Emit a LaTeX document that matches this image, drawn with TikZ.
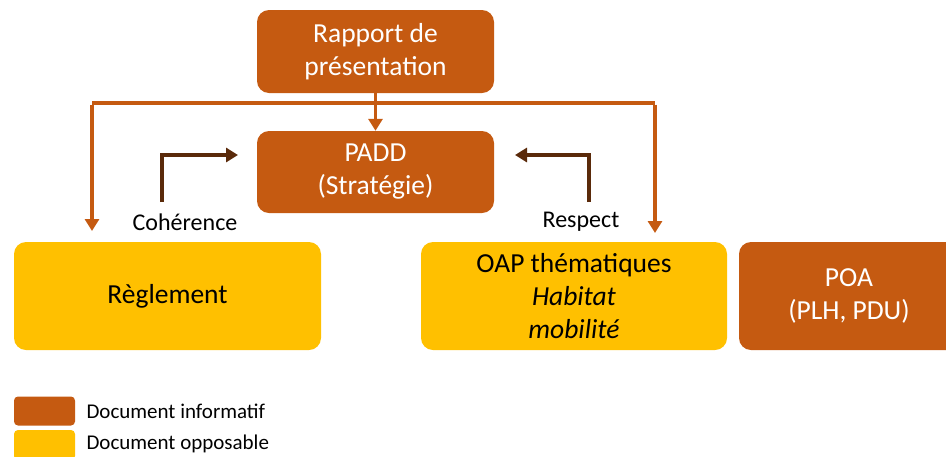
\documentclass[tikz,border=0pt]{standalone}
\usepackage{fontspec}
\setmainfont{Carlito}
\usetikzlibrary{arrows.meta}
\definecolor{infobrown}{HTML}{C55A11}
\definecolor{opposyellow}{HTML}{FFC000}
\definecolor{darkbrown}{HTML}{5A2A0A}
\begin{document}
\begin{tikzpicture}[x=1pt,y=-1pt,
  docbox/.style={rounded corners=12pt, inner sep=0pt, align=center, font=\fontsize{27.5}{33}\selectfont},
  infobox/.style={docbox, fill=infobrown, text=white},
  oppbox/.style={docbox, fill=opposyellow, text=black},
  link/.style={draw=infobrown, line width=3.2pt, -{Triangle[width=14pt,length=12pt]}},
  relation/.style={draw=darkbrown, line width=3.6pt, -{Triangle[width=14pt,length=12pt]}},
  lbl/.style={font=\fontsize{24}{28}\selectfont},
  legendtxt/.style={font=\fontsize{21}{25}\selectfont, anchor=west}
]
\useasboundingbox (0,0) rectangle (946,456);

% Document boxes
\node[infobox, minimum width=237pt, minimum height=83pt] (rapport) at (375.5,51.5) {Rapport de\\présentation};
\node[infobox, minimum width=237pt, minimum height=82pt] (padd) at (375.5,172) {PADD\\(Stratégie)};
\node[oppbox, minimum width=307pt, minimum height=108pt] (reglement) at (167.5,296) {Règlement};
\node[oppbox, minimum width=306pt, minimum height=108pt] (oap) at (574,296) {OAP thématiques\\\textit{Habitat}\\\textit{mobilité}};
\begin{scope}
\clip (0,0) rectangle (946,456);
\node[infobox, minimum width=220pt, minimum height=108pt] (poa) at (849,296) {POA\\(PLH, PDU)};
\end{scope}

% Distribution lines from the report
\coordinate (lefttop) at (92,103);
\coordinate (righttop) at (655,103);
\coordinate (leftend) at (92,231);
\coordinate (rightend) at (655,233);
\draw[draw=infobrown, line width=3.2pt] (lefttop) -- (righttop);
\draw[link] (rapport.south) -- (padd.north);
\draw[link] ([yshift=-1.6pt]lefttop) -- (leftend);
\draw[link] ([yshift=-1.6pt]righttop) -- (rightend);

% Relations towards the PADD
\coordinate (cohbase) at (162,202);
\coordinate (cohcorner) at (162,155);
\coordinate (resbase) at (589,202);
\coordinate (rescorner) at (589,155);
\coordinate (cohtip) at (238,155);
\coordinate (restip) at (515,155);
\draw[relation] (cohbase) -- (cohcorner) -- (cohtip);
\draw[relation] (resbase) -- (rescorner) -- (restip);
\node[lbl] (coherence) at (185,222) {Cohérence};
\node[lbl] (respect) at (581,222) {Respect};

% Legend
\node[fill=infobrown, rounded corners=4pt, minimum width=61pt, minimum height=29pt, inner sep=0pt] (legA) at (44.5,411) {};
\begin{scope}
\clip (0,0) rectangle (946,456);
\node[fill=opposyellow, rounded corners=4pt, minimum width=61pt, minimum height=30pt, inner sep=0pt] (legB) at (44.5,445) {};
\end{scope}
\node[legendtxt] (legAtext) at (83,411) {Document informatif};
\node[legendtxt] (legBtext) at (83,444) {Document opposable};
\end{tikzpicture}
\end{document}
